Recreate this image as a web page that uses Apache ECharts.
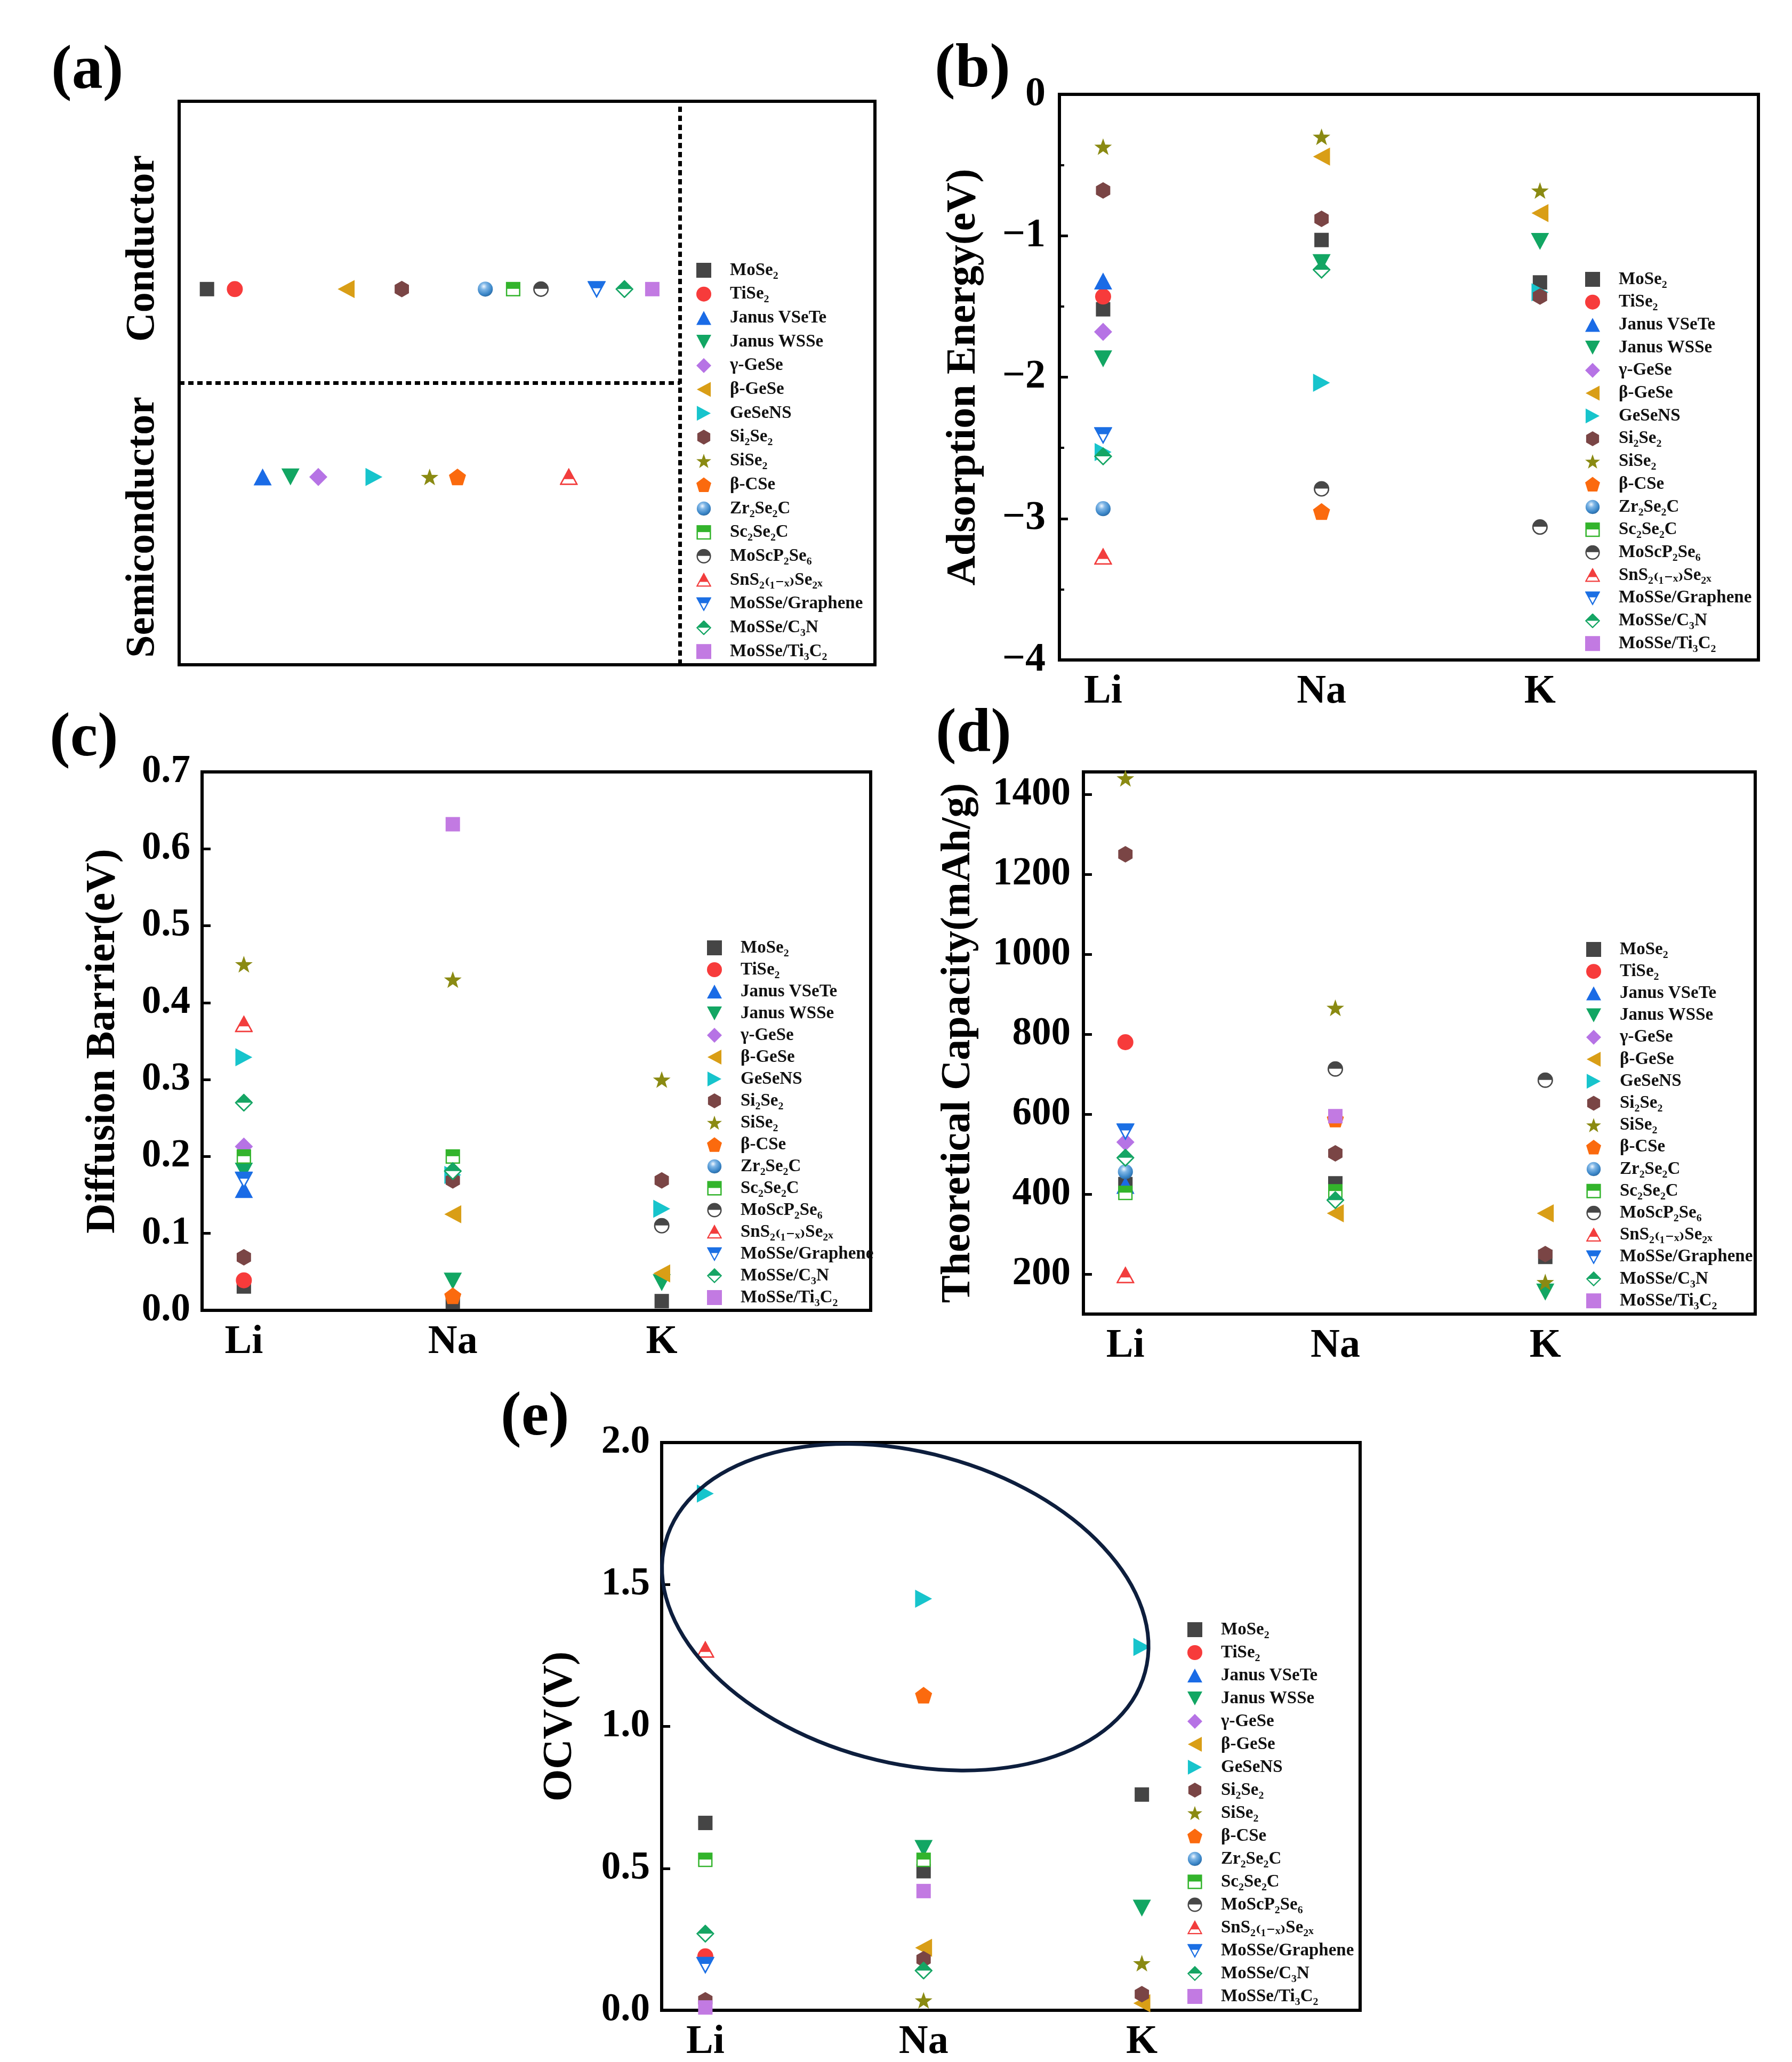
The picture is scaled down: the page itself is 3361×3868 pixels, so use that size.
<!DOCTYPE html>
<html>
<head>
<meta charset="utf-8">
<script src="https://cdn.jsdelivr.net/npm/echarts@6/dist/echarts.min.js"></script>
<style>
  html, body { margin: 0; padding: 0; background: #fff; }
  #chart { width: 3361px; height: 3868px; }
</style>
</head>
<body>
<div id="chart"></div>
<script>
// ---------------- DATA ----------------
const materials = ['MoSe₂', 'TiSe₂', 'Janus VSeTe', 'Janus WSSe', 'γ-GeSe', 'β-GeSe', 'GeSeNS',
  'Si₂Se₂', 'SiSe₂', 'β-CSe', 'Zr₂Se₂C', 'Sc₂Se₂C', 'MoScP₂Se₆', 'SnS₂₍₁₋ₓ₎Se₂ₓ',
  'MoSSe/Graphene', 'MoSSe/C₃N', 'MoSSe/Ti₃C₂'];

const ions = ['Li', 'Na', 'K'];

// (a) 2 = Conductor, 1 = Semiconductor (x position = material order)
const classLabels = ['Conductor', 'Semiconductor'];
const conductivityClass = [2, 2, 1, 1, 1, 2, 1, 2, 1, 1, 2, 2, 2, 1, 2, 2, 2];
const classBoundary = 1.5;
const legendDivider = 18;

// (b) adsorption energy (eV), columns Li, Na, K
const adsorptionEnergy = [
  [-1.52, -1.03, -1.33],
  [-1.43, null, null],
  [-1.32, null, null],
  [-1.87, -1.19, -1.04],
  [-1.68, null, null],
  [null, -0.44, -0.84],
  [-2.53, -2.04, -1.40],
  [-0.68, -0.88, -1.43],
  [-0.37, -0.30, -0.68],
  [null, -2.95, null],
  [-2.93, null, null],
  [null, null, null],
  [null, -2.79, -3.06],
  [-3.27, null, null],
  [-2.41, null, null],
  [-2.56, -1.24, null],
  [null, null, null]
];

// (c) diffusion barrier (eV)
const diffusionBarrier = [
  [0.031, 0.011, 0.012],
  [0.039, null, null],
  [0.157, null, null],
  [0.181, 0.038, 0.036],
  [0.213, null, null],
  [null, 0.125, 0.048],
  [0.329, 0.176, 0.132],
  [0.069, 0.169, 0.169],
  [0.45, 0.43, 0.30],
  [null, 0.019, null],
  [null, null, null],
  [0.20, 0.20, null],
  [null, null, 0.11],
  [0.372, null, null],
  [0.17, null, null],
  [0.27, 0.181, null],
  [null, 0.632, null]
];

// (d) theoretical capacity (mAh/g)
const theoreticalCapacity = [
  [425, 427, 243],
  [780, null, null],
  [422, null, null],
  [null, null, 155],
  [530, null, null],
  [null, 352, 352],
  [null, null, null],
  [1250, 502, 250],
  [1440, 866, 180],
  [null, 588, null],
  [456, null, null],
  [403, 407, null],
  [null, 713, 685],
  [197, null, null],
  [557, null, null],
  [491, 385, null],
  [null, 595, null]
];

// (e) open circuit voltage (V)
const ocv = [
  [0.66, 0.49, 0.76],
  [0.19, null, null],
  [null, null, null],
  [null, 0.57, 0.36],
  [null, null, null],
  [null, 0.22, 0.025],
  [1.82, 1.45, 1.28],
  [0.035, 0.18, 0.057],
  [null, 0.035, 0.166],
  [null, 1.11, null],
  [null, null, null],
  [0.53, 0.53, null],
  [null, null, null],
  [1.27, null, null],
  [0.16, null, null],
  [0.27, 0.14, null],
  [0.01, 0.42, null]
];

const capacityTicks = [200, 400, 600, 800, 1000, 1200, 1400];
const ocvEllipseCenter = [1.916, 1.42];

// ---------------- STYLE ----------------
const FONT = '"Liberation Serif", "Times New Roman", "DejaVu Serif", serif';
const colors = ['#454545', '#f73b3b', '#1a6be6', '#12a663', '#b673e5', '#d99e16', '#17c4cc',
  '#7a4545', '#8a8a12', '#fb6a0e', '#3d8bd0', '#33b42c', '#474747', '#f23d3d',
  '#1b6fe4', '#15a564', '#c27ae2'];

function svgSym(body) {
  const svg = '<svg xmlns="http://www.w3.org/2000/svg" width="100" height="100" viewBox="0 0 100 100">' + body + '</svg>';
  return 'image://data:image/svg+xml;charset=utf-8,' + encodeURIComponent(svg);
}
const SYM = {
  square: 'rect',
  circle: 'circle',
  triUp: 'path://M50,6 L96,92 L4,92 Z',
  triDown: 'path://M4,8 L96,8 L50,94 Z',
  diamond: 'path://M50,0 L100,50 L50,100 L0,50 Z',
  triLeft: 'path://M92,4 L92,96 L6,50 Z',
  triRight: 'path://M8,4 L8,96 L94,50 Z',
  hexagon: 'path://M50,0 L93.3,25 L93.3,75 L50,100 L6.7,75 L6.7,25 Z',
  star: 'path://M50,0 L61.8,33.8 L97.6,34.5 L69,56.2 L79.4,90.5 L50,70 L20.6,90.5 L31,56.2 L2.4,34.5 L38.2,33.8 Z',
  pentagon: 'path://M50,2 L98,38 L80,96 L20,96 L2,38 Z'
};
const halfSquare = c => svgSym('<rect x="6" y="6" width="88" height="88" fill="#fff" stroke="' + c + '" stroke-width="9"/><rect x="6" y="6" width="88" height="42" fill="' + c + '"/>');
const halfCircle = c => svgSym('<circle cx="50" cy="50" r="44" fill="#fff" stroke="' + c + '" stroke-width="9"/><path d="M6,48 A44,44 0 0 1 94,48 Z" fill="' + c + '"/>');
const halfTriUp = c => svgSym('<path d="M50,8 L95,90 L5,90 Z" fill="#fff" stroke="' + c + '" stroke-width="8"/><path d="M50,8 L79,62 L21,62 Z" fill="' + c + '"/>');
const halfTriDown = c => svgSym('<path d="M5,10 L95,10 L50,92 Z" fill="#fff" stroke="' + c + '" stroke-width="8"/><path d="M5,10 L95,10 L76,45 L24,45 Z" fill="' + c + '"/>');
const halfDiamond = c => svgSym('<path d="M50,5 L95,50 L50,95 L5,50 Z" fill="#fff" stroke="' + c + '" stroke-width="8"/><path d="M50,5 L95,50 L5,50 Z" fill="' + c + '"/>');
const sphere = svgSym('<defs><radialGradient id="g" cx="0.4" cy="0.32" r="0.72"><stop offset="0" stop-color="#f2f8ff"/><stop offset="0.3" stop-color="#7fb6e6"/><stop offset="0.75" stop-color="#3a86c8"/><stop offset="1" stop-color="#2a679f"/></radialGradient></defs><circle cx="50" cy="50" r="47" fill="url(#g)"/>');

const symbols = [SYM.square, SYM.circle, SYM.triUp, SYM.triDown, SYM.diamond, SYM.triLeft, SYM.triRight,
  SYM.hexagon, SYM.star, SYM.pentagon, sphere, halfSquare(colors[11]), halfCircle(colors[12]),
  halfTriUp(colors[13]), halfTriDown(colors[14]), halfDiamond(colors[15]), SYM.square];
const symbolSizes = [27, 30, 34, 34, 34, 34, 34, 31, 33, 32, 30, 28, 30, 34, 34, 34, 27];

// ---------------- LAYOUT ----------------
const grids = [
  { left: 336, top: 190, width: 1305, height: 1057 },
  { left: 1987, top: 177, width: 1311, height: 1061 },
  { left: 379, top: 1448, width: 1254, height: 1010 },
  { left: 2032, top: 1448, width: 1260, height: 1017 },
  { left: 1241, top: 2706, width: 1310, height: 1065 }
];
const legendPos = [
  { left: 1306, top: 490, itemGap: 10.7 },
  { left: 2973, top: 507, itemGap: 8.7 },
  { left: 1326, top: 1761, itemGap: 7.0 },
  { left: 2975, top: 1764, itemGap: 7.2 },
  { left: 2227, top: 3040, itemGap: 9.0 }
];

const black = '#000';
const tickLabel = (extra) => Object.assign({ fontFamily: FONT, fontWeight: 'bold', fontSize: 73, color: black, margin: 24 }, extra || {});
const axisName = { fontFamily: FONT, fontWeight: 'bold', fontSize: 78, color: black };

function ionAxis(gi) {
  return {
    type: 'value', gridIndex: gi, min: 0.8, max: 4,
    axisLine: { show: false }, axisTick: { show: false }, splitLine: { show: false },
    axisLabel: tickLabel({ fontSize: 76, margin: 22, customValues: [1, 2, 3], formatter: v => ions[Math.round(v) - 1] || '' })
  };
}
const tickStyle = { show: true, inside: true, length: 16, lineStyle: { width: 5, color: black } };

const xAxes = [
  { type: 'value', gridIndex: 0, min: 0, max: 25, show: false },
  ionAxis(1), ionAxis(2), ionAxis(3), ionAxis(4)
];
const yAxes = [
  { type: 'value', gridIndex: 0, min: 0, max: 3, show: false },
  {
    type: 'value', gridIndex: 1, min: -4, max: 0, interval: 1,
    name: 'Adsorption Energy(eV)', nameLocation: 'middle', nameGap: 140, nameTextStyle: axisName,
    axisLine: { show: false }, splitLine: { show: false }, axisTick: tickStyle,
    minorTick: { show: true, splitNumber: 2, length: 9, lineStyle: { width: 4, color: black } },
    axisLabel: tickLabel({ fontSize: 76, margin: 26, formatter: v => v < 0 ? '\u2212' + Math.abs(v) : String(v) })
  },
  {
    type: 'value', gridIndex: 2, min: 0, max: 0.7, interval: 0.1,
    name: 'Diffusion Barrier(eV)', nameLocation: 'middle', nameGap: 146, nameTextStyle: axisName,
    axisLine: { show: false }, splitLine: { show: false }, axisTick: tickStyle,
    axisLabel: tickLabel({ margin: 22, formatter: v => v.toFixed(1) })
  },
  {
    type: 'value', gridIndex: 3, min: 100, max: 1456,
    name: 'Theoretical Capacity(mAh/g)', nameLocation: 'middle', nameGap: 195, nameTextStyle: axisName,
    axisLine: { show: false }, splitLine: { show: false },
    axisTick: Object.assign({}, tickStyle, { customValues: capacityTicks }),
    axisLabel: tickLabel({ margin: 24, customValues: capacityTicks, formatter: v => String(Math.round(v)) })
  },
  {
    type: 'value', gridIndex: 4, min: 0, max: 2, interval: 0.5,
    name: 'OCV(V)', nameLocation: 'middle', nameGap: 151, nameTextStyle: axisName,
    axisLine: { show: false }, splitLine: { show: false }, axisTick: tickStyle,
    axisLabel: tickLabel({ margin: 22, formatter: v => v.toFixed(1) })
  }
];

// ---------------- SERIES ----------------
const series = [];
function baseSeries(i, gi, data) {
  return {
    type: 'scatter', name: materials[i], xAxisIndex: gi, yAxisIndex: gi,
    symbol: symbols[i], symbolSize: symbolSizes[i], symbolKeepAspect: true,
    itemStyle: { color: colors[i], opacity: 1 },
    emphasis: { disabled: true }, data: data, z: 3
  };
}
// panel (a)
materials.forEach((m, i) => {
  const s = baseSeries(i, 0, [[i + 1, conductivityClass[i]]]);
  if (i === 0) {
    s.markLine = {
      silent: true, symbol: 'none', label: { show: false },
      lineStyle: { type: [10, 7], width: 7, color: black },
      data: [
        [{ coord: [0, classBoundary] }, { coord: [legendDivider, classBoundary] }],
        [{ coord: [legendDivider, 0] }, { coord: [legendDivider, 3] }]
      ]
    };
  }
  series.push(s);
});
[adsorptionEnergy, diffusionBarrier, theoreticalCapacity, ocv].forEach((table, p) => {
  const gi = p + 1;
  table.forEach((row, i) => {
    const data = row.map((v, k) => [k + 1, v]).filter(d => d[1] !== null);
    series.push(baseSeries(i, gi, data));
  });
});
// ellipse annotation in (e)
series.push({
  type: 'custom', name: 'ellipse', xAxisIndex: 4, yAxisIndex: 4, silent: true, z: 10,
  data: [ocvEllipseCenter],
  renderItem: function (params, api) {
    const p = api.coord([api.value(0), api.value(1)]);
    return {
      type: 'ellipse', x: p[0], y: p[1], rotation: -0.265,
      shape: { cx: 0, cy: 0, rx: 466, ry: 291 },
      style: { fill: 'none', stroke: '#0d1e3d', lineWidth: 7 }
    };
  }
});

const legends = legendPos.map(lp => ({
  data: materials, orient: 'vertical', left: lp.left, top: lp.top, itemGap: lp.itemGap,
  itemWidth: 28, itemHeight: 28, selectedMode: false, padding: 0,
  textStyle: { fontFamily: FONT, fontWeight: 'bold', fontSize: 33, lineHeight: 34, color: '#111', padding: [0, 0, 0, 30] }
}));

const panelLetter = (t, x, y) => ({
  type: 'text', x: x, y: y,
  style: { text: t, fontFamily: FONT, fontWeight: 'bold', fontSize: 116, fill: black, align: 'left', verticalAlign: 'middle' }
});
const classText = (t, x, y) => ({
  type: 'text', x: x, y: y, rotation: Math.PI / 2,
  style: { text: t, fontFamily: FONT, fontWeight: 'bold', fontSize: 76, fill: black, align: 'center', verticalAlign: 'middle' }
});

const option = {
  animation: false,
  backgroundColor: '#fff',
  grid: grids.map(g => Object.assign({ show: true, borderColor: black, borderWidth: 6, backgroundColor: 'transparent', containLabel: false, outerBoundsMode: 'none' }, g)),
  xAxis: xAxes,
  yAxis: yAxes,
  legend: legends,
  series: series,
  graphic: [
    panelLetter('(a)', 96, 135),
    panelLetter('(b)', 1753, 132),
    panelLetter('(c)', 93, 1387),
    panelLetter('(d)', 1755, 1379),
    panelLetter('(e)', 939, 2661),
    classText(classLabels[0], 268, 466),
    classText(classLabels[1], 268, 989)
  ]
};

const chart = echarts.init(document.getElementById('chart'), null, { renderer: 'canvas' });
chart.setOption(option);
</script>
</body>
</html>
